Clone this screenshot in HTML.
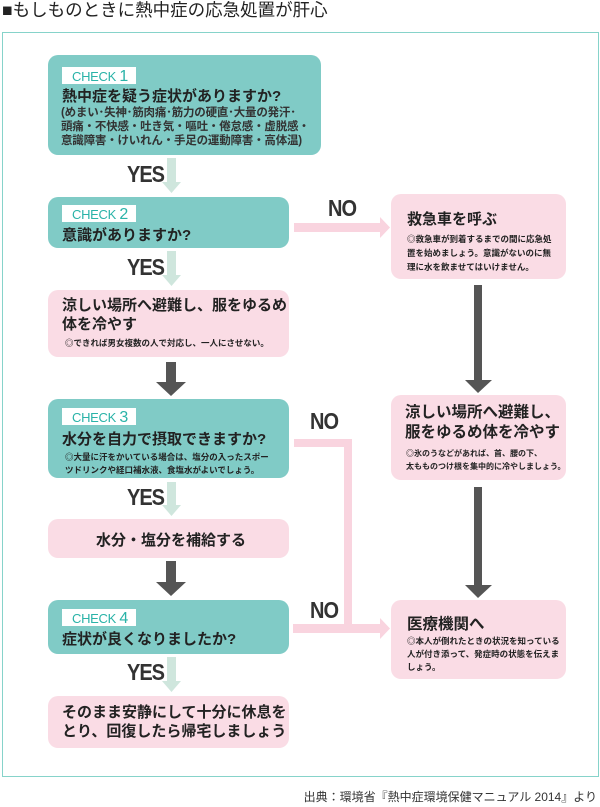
<!DOCTYPE html>
<html><head><meta charset="utf-8"><style>
*{margin:0;padding:0;box-sizing:border-box}
body{width:600px;height:807px;background:#fff;position:relative;overflow:hidden;font-family:"Liberation Sans","Noto Sans CJK JP",sans-serif;color:#222}
.a{position:absolute}
.t{background:#80cbc6;border-radius:10px}
.p{background:#fadce5;border-radius:10px}
.ck{position:absolute;background:#fff;color:#2ab3a8;font-size:13px;padding:1px 8px 0 10px;height:17px;line-height:17px;letter-spacing:-0.3px}
.ck b{font-size:16px;font-weight:normal}
.h{font-size:15px;font-weight:bold;white-space:nowrap;color:#222}
.s{font-size:8.5px;font-weight:bold;white-space:nowrap;line-height:13px}
.yn{position:absolute;font-family:"Liberation Sans Narrow","Liberation Sans",sans-serif;font-weight:bold;font-size:20px;color:#333;transform:scaleY(1.15);letter-spacing:-1px}
</style></head><body>
<div class="a" style="left:2px;top:-3px;font-size:17.5px;white-space:nowrap">■もしものときに熱中症の応急処置が肝心</div>
<div class="a" style="left:2px;top:32px;width:597px;height:745px;border:1.5px solid #86d3ca"></div>

<svg class="a" style="left:0;top:0" width="600" height="807">
<g fill="#cfe6dd">
<polygon points="167,158 176,158 176,182 181,182 171.5,193 162,182 167,182"/>
<polygon points="167,251 176,251 176,275 181,275 171.5,286 162,275 167,275"/>
<polygon points="167,482 176,482 176,505 181,505 171.5,516 162,505 167,505"/>
<polygon points="167,657 176,657 176,681 181,681 171.5,692 162,681 167,681"/>
</g>
<g fill="#555">
<polygon points="166,362 176,362 176,382 186,382 171,396 156,382 166,382"/>
<polygon points="166,561 176,561 176,582 186,582 171,596 156,582 166,582"/>
<polygon points="474,285 482,285 482,380 492,380 478,393 465,380 474,380"/>
<polygon points="474,487 482,487 482,585 492,585 478,598 465,585 474,585"/>
</g>
<g fill="#f9d4df">
<polygon points="294,223 380,223 380,217 390,227.5 380,238 380,232 294,232"/>
<polygon points="294,439 352,439 352,624 380,624 380,618 390,628.5 380,639 380,633 293,633 293,624 344,624 344,447 294,447"/>
</g>
</svg>

<div class="yn" style="left:127px;top:164px">YES</div>
<div class="yn" style="left:127px;top:257px">YES</div>
<div class="yn" style="left:127px;top:487px">YES</div>
<div class="yn" style="left:127px;top:662px">YES</div>
<div class="yn" style="left:328px;top:198px">NO</div>
<div class="yn" style="left:310px;top:411px">NO</div>
<div class="yn" style="left:310px;top:600px">NO</div>

<div class="a t" style="left:48px;top:55px;width:273px;height:100px">
<div class="ck" style="left:14px;top:12px">CHECK <b>1</b></div>
<div class="a h" style="left:14px;top:30px">熱中症を疑う症状がありますか?</div>
<div class="a" style="left:13px;top:51px;font-size:11.5px;line-height:14px;font-weight:bold;color:#333;white-space:nowrap;letter-spacing:-0.2px">(めまい･失神･筋肉痛･筋力の硬直･大量の発汗･<br>頭痛・不快感・吐き気・嘔吐・倦怠感・虚脱感・<br>意識障害・けいれん・手足の運動障害・高体温)</div>
</div>

<div class="a t" style="left:48px;top:197px;width:241px;height:51px">
<div class="ck" style="left:14px;top:8px">CHECK <b>2</b></div>
<div class="a h" style="left:14px;top:27px">意識がありますか?</div>
</div>

<div class="a p" style="left:48px;top:290px;width:241px;height:67px">
<div class="a h" style="left:14px;top:6px;line-height:19px">涼しい場所へ避難し、服をゆるめ<br>体を冷やす</div>
<div class="a s" style="left:17px;top:47px">◎できれば男女複数の人で対応し、一人にさせない。</div>
</div>

<div class="a t" style="left:48px;top:399px;width:241px;height:79px">
<div class="ck" style="left:14px;top:9px">CHECK <b>3</b></div>
<div class="a h" style="left:14px;top:29px">水分を自力で摂取できますか?</div>
<div class="a s" style="left:17px;top:52px">◎大量に汗をかいている場合は、塩分の入ったスポー<br>ツドリンクや経口補水液、食塩水がよいでしょう。</div>
</div>

<div class="a p" style="left:48px;top:519px;width:241px;height:39px">
<div class="a h" style="left:48px;top:10px">水分・塩分を補給する</div>
</div>

<div class="a t" style="left:48px;top:600px;width:241px;height:54px">
<div class="ck" style="left:14px;top:9px">CHECK <b>4</b></div>
<div class="a h" style="left:14px;top:28px">症状が良くなりましたか?</div>
</div>

<div class="a p" style="left:48px;top:696px;width:241px;height:52px">
<div class="a h" style="left:14px;top:7px;line-height:19px">そのまま安静にして十分に休息を<br>とり、回復したら帰宅しましょう</div>
</div>

<div class="a p" style="left:391px;top:194px;width:175px;height:85px">
<div class="a h" style="left:16px;top:14px">救急車を呼ぶ</div>
<div class="a s" style="left:16px;top:38px;line-height:14px">◎救急車が到着するまでの間に応急処<br>置を始めましょう。意識がないのに無<br>理に水を飲ませてはいけません。</div>
</div>

<div class="a p" style="left:391px;top:395px;width:175px;height:85px">
<div class="a h" style="left:14px;top:8px;line-height:20px;font-size:15.5px">涼しい場所へ避難し、<br>服をゆるめ体を冷やす</div>
<div class="a s" style="left:15px;top:52px;font-size:8px">◎氷のうなどがあれば、首、腰の下、<br>太もものつけ根を集中的に冷やしましょう。</div>
</div>

<div class="a p" style="left:391px;top:600px;width:175px;height:79px">
<div class="a h" style="left:16px;top:12px;font-size:15.5px">医療機関へ</div>
<div class="a s" style="left:16px;top:35px;line-height:13px">◎本人が倒れたときの状況を知っている<br>人が付き添って、発症時の状態を伝えま<br>しょう。</div>
</div>

<div class="a" style="right:3px;top:788px;font-size:12px;white-space:nowrap;color:#333">出典：環境省『熱中症環境保健マニュアル 2014』より</div>
</body></html>
